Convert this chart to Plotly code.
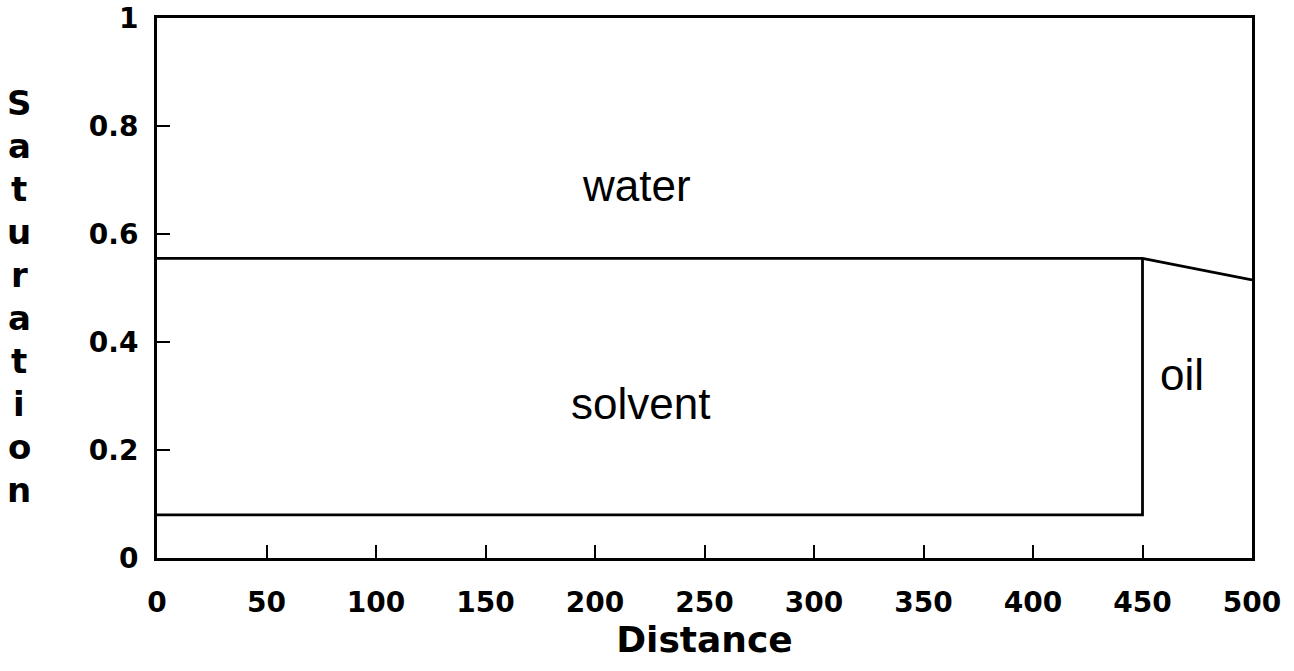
import plotly.graph_objects as go

# Data
dist_upper = [0, 450, 500]
sat_upper = [0.555, 0.555, 0.515]
dist_lower = [0, 450, 450]
sat_lower = [0.08, 0.08, 0.555]

x_ticks = [0, 50, 100, 150, 200, 250, 300, 350, 400, 450, 500]
y_ticks = [0, 0.2, 0.4, 0.6, 0.8, 1]
y_tick_text = ["0", "0.2", "0.4", "0.6", "0.8", "1"]

labels = ["water", "solvent", "oil"]
label_x = [219, 221, 468]
label_y = [0.69, 0.287, 0.34]

y_title = "Saturation"

fig = go.Figure()
line_style = dict(color="black", width=2.8)
fig.add_trace(go.Scatter(x=dist_upper, y=sat_upper, mode="lines", line=line_style,
                         showlegend=False, hoverinfo="skip"))
fig.add_trace(go.Scatter(x=dist_lower, y=sat_lower, mode="lines", line=line_style,
                         showlegend=False, hoverinfo="skip"))

for t, lx, ly in zip(labels, label_x, label_y):
    fig.add_annotation(x=lx, y=ly, xref="x", yref="y", text=t, showarrow=False,
                       font=dict(family="Liberation Sans", size=44, color="black"))

# stacked vertical axis title
top_px, step_px, plot_h = 103 - 18, 43, 540
for i, ch in enumerate(y_title):
    ypix = top_px + step_px * i
    fig.add_annotation(x=-0.126, y=1 - ypix / plot_h, xref="paper", yref="paper",
                       text=ch, showarrow=False, xanchor="center", yanchor="middle",
                       font=dict(family="DejaVu Sans", size=34, color="black", weight="bold"))

fig.update_xaxes(range=[0, 500], tickvals=x_ticks, ticks="inside", ticklen=13, tickwidth=2,
                 tickcolor="black", showline=True, linecolor="black", linewidth=3, mirror=True,
                 showgrid=False, zeroline=False, ticklabelstandoff=17, automargin=False,
                 tickfont=dict(family="DejaVu Sans", size=28, color="black", weight="bold"),
                 title=dict(text="Distance", standoff=10,
                            font=dict(family="DejaVu Sans", size=36, color="black", weight="bold")))
fig.update_yaxes(range=[0, 1], tickvals=y_ticks, ticktext=y_tick_text, ticks="inside",
                 ticklen=13, tickwidth=2, tickcolor="black", showline=True, linecolor="black",
                 linewidth=3, mirror=True, showgrid=False, zeroline=False, ticklabelstandoff=10,
                 automargin=False,
                 tickfont=dict(family="DejaVu Sans", size=28, color="black", weight="bold"))

fig.update_layout(width=1294, height=671, margin=dict(l=157, r=42, t=18, b=113),
                  plot_bgcolor="white", paper_bgcolor="white")

fig.write_html("out.html")
